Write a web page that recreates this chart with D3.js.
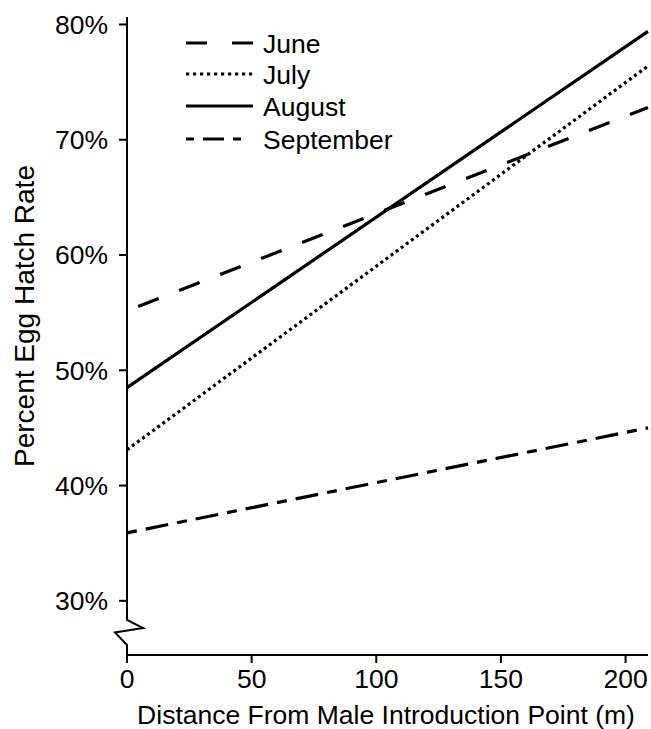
<!DOCTYPE html>
<html>
<head>
<meta charset="utf-8">
<script src="https://cdn.jsdelivr.net/npm/d3@7/dist/d3.min.js"></script>
<style>
  body { margin: 0; background: #fff; }
  svg { display: block; }
  text { font-family: "Liberation Sans", Arial, Helvetica, sans-serif; fill: #000; }
</style>
</head>
<body>
<div id="chart"></div>
<script>
// ---- data ----
const months = ["June", "July", "August", "September"];
const distances = [0, 209];            // line end points (m)
const juneValues = [55.15, 72.8];      // % egg hatch
const julyValues = [43.1, 76.4];
const augustValues = [48.5, 79.4];
const septemberValues = [35.9, 45.0];
const xTicks = [0, 50, 100, 150, 200];
const yTicks = [30, 40, 50, 60, 70, 80];
const xLabel = "Distance From Male Introduction Point (m)";
const yLabel = "Percent Egg Hatch Rate";

const seriesValues = [juneValues, julyValues, augustValues, septemberValues];
const dashes = ["22,22", "3,3.3", null, "10,9,23,9"];
const dashOffsets = [32, 0, 0, 0];
const legendDashes = ["21,25", "3.2,3.8", null, "8,9,21,9"];
const legendLen = [67, 67, 67, 55];

const W = 651, H = 729;
const FS = 26.5;
const svg = d3.select("#chart").append("svg").attr("width", W).attr("height", H);

const x = d3.scaleLinear().domain([0, 209]).range([127, 648]);
const y = d3.scaleLinear().domain([25.3, 80.65]).range([655, 17]);

const axisColor = "#000";
const ax = 127;

// y axis line with break
const breakTop = 620;
svg.append("path")
  .attr("d", `M${ax},${y(80.65)} L${ax},${breakTop} L${ax+16},${breakTop+8} L${ax-12},${breakTop+12.5} L${ax},${breakTop+25} L${ax},${y(25.3)}`)
  .attr("fill", "none").attr("stroke", axisColor).attr("stroke-width", 2)
  .attr("stroke-linejoin", "miter");

// y ticks
yTicks.forEach(v => {
  svg.append("line").attr("x1", ax - 8).attr("x2", ax).attr("y1", y(v)).attr("y2", y(v))
    .attr("stroke", axisColor).attr("stroke-width", 2);
  svg.append("text").attr("x", 108).attr("y", y(v)).attr("dy", "0.35em")
    .attr("text-anchor", "end").attr("font-size", FS).text(v + "%");
});

// x axis
svg.append("line").attr("x1", ax).attr("x2", x(209)).attr("y1", 655).attr("y2", 655)
  .attr("stroke", axisColor).attr("stroke-width", 2);
xTicks.forEach(v => {
  svg.append("line").attr("x1", x(v)).attr("x2", x(v)).attr("y1", 655).attr("y2", 663)
    .attr("stroke", axisColor).attr("stroke-width", 2);
  svg.append("text").attr("x", x(v)).attr("y", 688)
    .attr("text-anchor", "middle").attr("font-size", FS).text(v);
});

// axis titles
svg.append("text").attr("x", 386).attr("y", 724).attr("text-anchor", "middle")
  .attr("font-size", FS).text(xLabel);
svg.append("text").attr("transform", "translate(34,316) rotate(-90)")
  .attr("text-anchor", "middle").attr("font-size", 28).text(yLabel);

// lines
const line = d3.line().x(d => x(d[0])).y(d => y(d[1]));
seriesValues.forEach((vals, i) => {
  const pts = distances.map((d, j) => [d, vals[j]]);
  const p = svg.append("path").attr("d", line(pts))
    .attr("fill", "none").attr("stroke", "#000").attr("stroke-width", 3.2);
  if (dashes[i]) p.attr("stroke-dasharray", dashes[i]).attr("stroke-dashoffset", dashOffsets[i]);
});

// legend
const legY = [44, 75, 107, 140];
months.forEach((m, i) => {
  const l = svg.append("line").attr("x1", 186).attr("x2", 186 + legendLen[i])
    .attr("y1", legY[i] - 1).attr("y2", legY[i] - 1)
    .attr("stroke", "#000").attr("stroke-width", 3.2);
  if (legendDashes[i]) l.attr("stroke-dasharray", legendDashes[i]);
  svg.append("text").attr("x", 263).attr("y", legY[i]).attr("dy", "0.35em")
    .attr("font-size", FS).text(m);
});
</script>
</body>
</html>
